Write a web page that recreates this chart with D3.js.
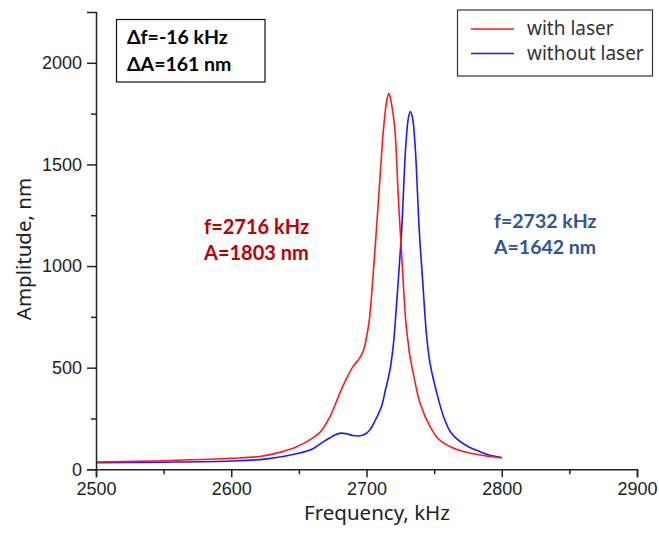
<!DOCTYPE html>
<html>
<head>
<meta charset="utf-8">
<script src="https://cdn.jsdelivr.net/npm/d3@7"></script>
<style>
  html, body { margin: 0; padding: 0; background: #fff; }
  svg { display: block; }
</style>
</head>
<body>
<svg id="chart" width="659" height="535"></svg>
<script>
// ---- data ----
const seriesNames = ["with laser", "without laser"];
const seriesColors = ["#ff1a1a", "#1a1aff"];

const freqWith = [2500, 2550, 2600, 2621, 2635, 2648, 2658, 2666, 2673, 2680, 2684, 2690, 2695, 2698, 2700, 2702, 2705, 2709, 2712.5, 2715, 2716.5, 2718, 2721, 2723.5, 2726.5, 2729, 2730.5, 2732, 2734.6, 2739.6, 2747, 2754, 2762, 2769, 2777, 2790, 2800];
const ampWith  = [36, 42, 54, 63, 82, 110, 145, 185, 259, 370, 430, 505, 548, 590, 650, 730, 965, 1340, 1669, 1815, 1850, 1815, 1669, 1341, 997, 730, 640, 560, 472, 325, 210, 144, 111, 92, 79, 64, 56];

const freqWithout = [2500, 2550, 2600, 2625, 2650, 2660, 2668, 2673, 2677, 2681, 2685, 2690, 2694, 2698, 2702, 2706, 2711, 2714, 2717.4, 2719.8, 2721, 2723.5, 2726, 2729, 2731, 2732.4, 2734, 2736, 2739, 2741.5, 2744.5, 2747, 2752, 2757, 2762, 2767, 2775, 2782, 2790, 2800];
const ampWithout  = [32, 35, 41, 50, 79, 100, 135, 155, 170, 178, 175, 166, 164, 170, 190, 235, 308, 390, 490, 610, 700, 931, 1177, 1587, 1730, 1760, 1730, 1587, 1177, 931, 652, 521, 374, 259, 185, 148, 112, 92, 72, 58];

const xTicks = [2500, 2600, 2700, 2800, 2900];
const yTicks = [0, 500, 1000, 1500, 2000];
const xLabel = "Frequency, kHz";
const yLabel = "Amplitude, nm";
const deltaText = ["\u0394f=-16 kHz", "\u0394A=161 nm"];
const redNote = ["f=2716 kHz", "A=1803 nm"];
const blueNote = ["f=2732 kHz", "A=1642 nm"];

// ---- layout ----
const svg = d3.select("#chart");
const x = d3.scaleLinear().domain([2500, 2900]).range([96, 637]);
const y = d3.scaleLinear().domain([0, 2250]).range([469.3, 12]);

const axisColor = "#222";
const tickFont = "'Liberation Sans', Arial, sans-serif";
const titleFont = "'Noto Sans', 'Open Sans', sans-serif";
const noteFont = "Lato, 'Noto Sans', sans-serif";

// curves
const line = d3.line().x(d => x(d[0])).y(d => y(d[1])).curve(d3.curveCatmullRom.alpha(0.5));
const dataWith = freqWith.map((f, i) => [f, ampWith[i]]);
const dataWithout = freqWithout.map((f, i) => [f, ampWithout[i]]);

svg.append("path").datum(dataWithout)
  .attr("d", line).attr("fill", "none")
  .attr("stroke", seriesColors[1]).attr("stroke-width", 1.6);
svg.append("path").datum(dataWith)
  .attr("d", line).attr("fill", "none")
  .attr("stroke", seriesColors[0]).attr("stroke-width", 1.6);

// x axis
const xAxis = d3.axisBottom(x).tickValues(xTicks).tickFormat(d3.format("d")).tickSizeOuter(0).tickSize(8).tickPadding(5);
const gx = svg.append("g").attr("transform", `translate(0,${y(0)})`).call(xAxis);
const xMinor = d3.axisBottom(x).tickValues([2550, 2650, 2750, 2850]).tickFormat("").tickSizeOuter(0).tickSize(5);
svg.append("g").attr("transform", `translate(0,${y(0)})`).call(xMinor).select(".domain").remove();

// y axis
const yAxis = d3.axisLeft(y).tickValues(yTicks).tickFormat(d3.format("d")).tickSizeOuter(0).tickSize(9).tickPadding(5);
const gy = svg.append("g").attr("transform", `translate(${x(2500)},0)`).call(yAxis);
const yMinor = d3.axisLeft(y).tickValues([250, 750, 1250, 1750]).tickFormat("").tickSizeOuter(0).tickSize(5);
svg.append("g").attr("transform", `translate(${x(2500)},0)`).call(yMinor).select(".domain").remove();

svg.selectAll(".domain, .tick line").attr("stroke", axisColor).attr("stroke-width", 1.5);
[gx, gy].forEach(g => g.selectAll("text")
  .attr("font-family", tickFont).attr("font-size", 18).attr("fill", axisColor));

// axis titles
svg.append("text").attr("x", 377).attr("y", 520)
  .attr("text-anchor", "middle").attr("font-family", titleFont).attr("font-size", 20.5)
  .attr("fill", "#222").text(xLabel);
svg.append("text").attr("transform", "translate(31,249) rotate(-90)")
  .attr("text-anchor", "middle").attr("font-family", titleFont).attr("font-size", 20.5)
  .attr("fill", "#222").text(yLabel);

// delta box
svg.append("rect").attr("x", 116.5).attr("y", 19.5).attr("width", 148.5).attr("height", 62.5)
  .attr("fill", "#fff").attr("stroke", "#111").attr("stroke-width", 1.2);
deltaText.forEach((t, i) => svg.append("text")
  .attr("x", 127).attr("y", 44 + i * 27)
  .attr("font-family", noteFont).attr("font-weight", "bold").attr("font-size", 19.5)
  .attr("fill", "#000").text(t));

// peak notes
redNote.forEach((t, i) => svg.append("text")
  .attr("x", 204).attr("y", 234 + i * 26)
  .attr("font-family", noteFont).attr("font-weight", "bold").attr("font-size", 20)
  .attr("fill", "#c00000").text(t));
blueNote.forEach((t, i) => svg.append("text")
  .attr("x", 494).attr("y", 228 + i * 26)
  .attr("font-family", noteFont).attr("font-weight", "bold").attr("font-size", 19.5)
  .attr("fill", "#2f5597").text(t));

// legend
const lg = svg.append("g");
lg.append("rect").attr("x", 457.5).attr("y", 10).attr("width", 195).attr("height", 66)
  .attr("fill", "#fff").attr("stroke", "#333").attr("stroke-width", 1.2);
seriesNames.forEach((name, i) => {
  const yy = 29 + i * 24.5;
  lg.append("line").attr("x1", 471).attr("x2", 514).attr("y1", yy).attr("y2", yy)
    .attr("stroke", seriesColors[i]).attr("stroke-width", 1.6);
  lg.append("text").attr("x", 527).attr("y", yy + 6)
    .attr("font-family", titleFont).attr("font-size", 19).attr("fill", "#333").text(name);
});
</script>
</body>
</html>
